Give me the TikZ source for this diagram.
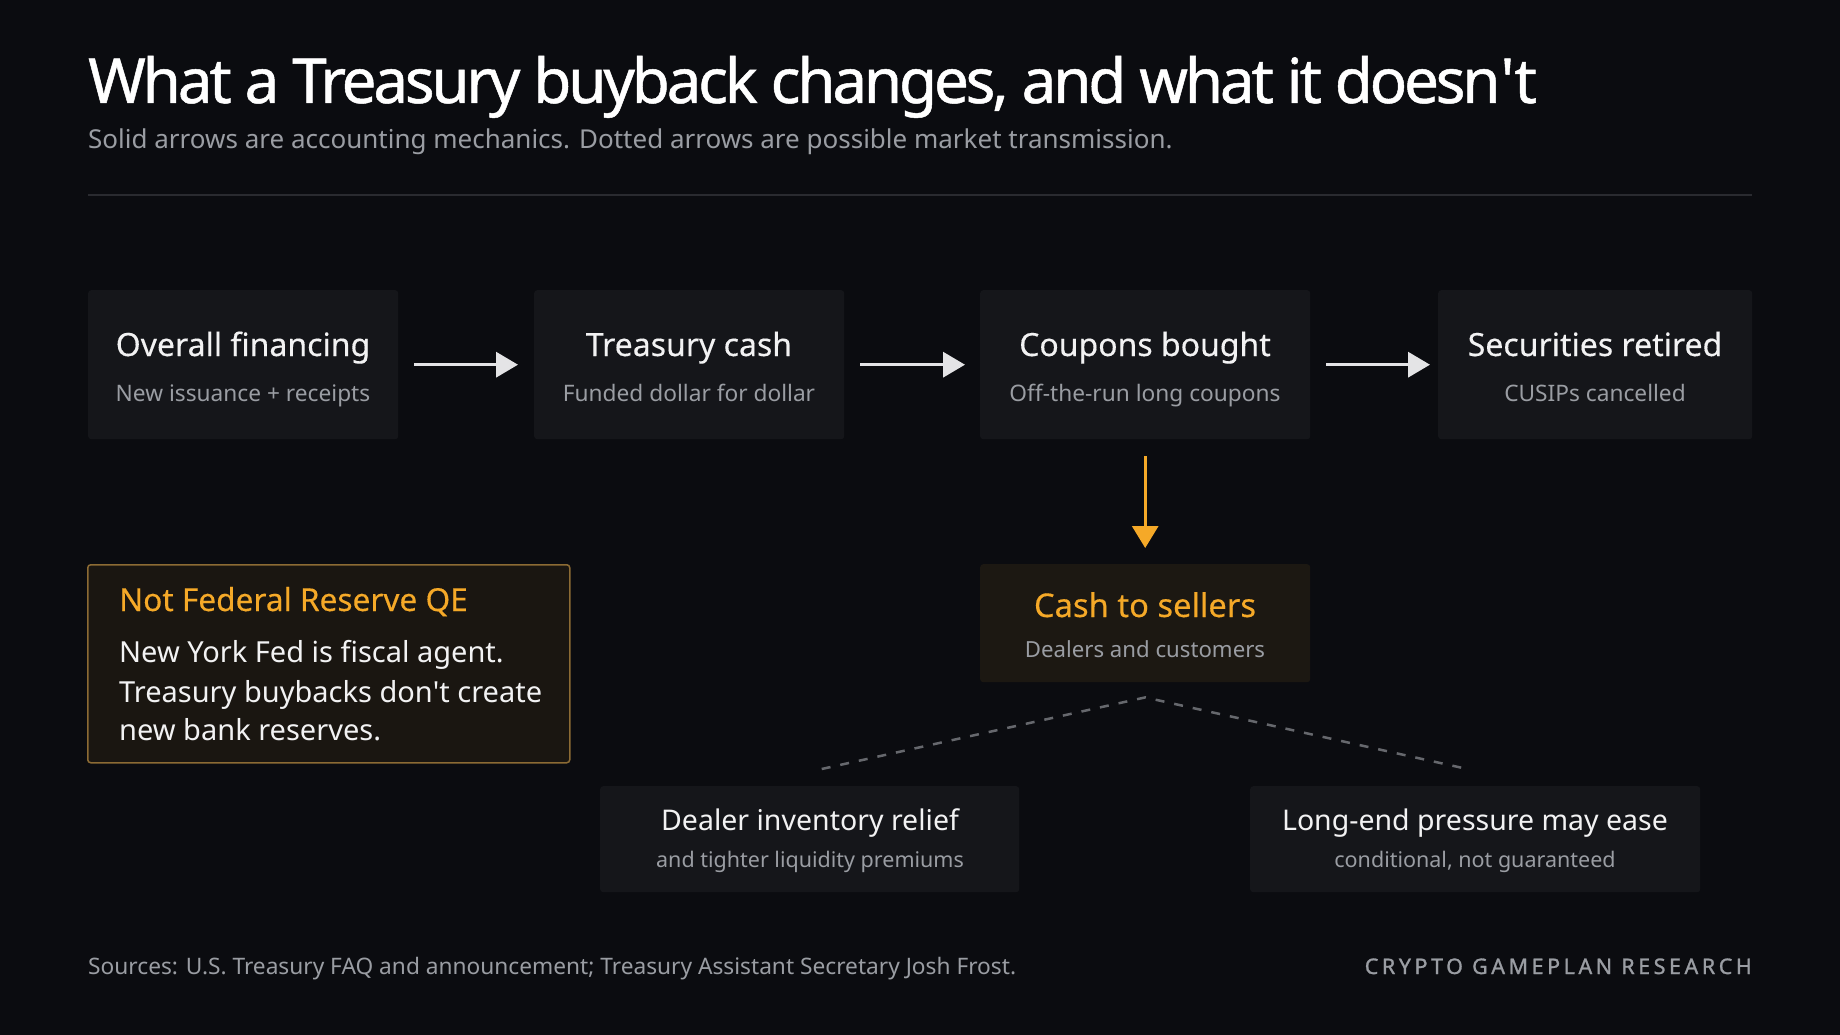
\documentclass[tikz,border=0pt]{standalone}
\usepackage{fontspec}
\setmainfont{Noto Sans}
\newfontfamily\titlefont{Noto Sans}[LetterSpace=-5.2,FakeBold=0.8]
\newfontfamily\medfont{Noto Sans}[FakeBold=0.3]
\newfontfamily\brandfont{Noto Sans}[LetterSpace=16.5,FakeBold=1.2]
\usetikzlibrary{arrows.meta,calc}
\definecolor{bg}{HTML}{0B0C10}
\definecolor{boxfill}{HTML}{15161A}
\definecolor{txt}{HTML}{F2F2F3}
\definecolor{subc}{HTML}{9A9DA3}
\definecolor{orng}{HTML}{F5A928}
\definecolor{cashfill}{HTML}{1C1812}
\definecolor{qefill}{HTML}{1A1611}
\definecolor{qeborder}{HTML}{8C6B34}
\definecolor{dashc}{HTML}{66686D}
\definecolor{rulec}{HTML}{2A2B30}
\definecolor{arrowc}{HTML}{E4E4E6}
\tikzset{
  card/.style={fill=boxfill, rounded corners=3pt, draw=none, inner sep=0pt, anchor=north west},
  ttl/.style={text=txt, inner sep=0pt, anchor=base, font=\medfont\fontsize{32}{38}\selectfont},
  sbt/.style={text=subc, inner sep=0pt, anchor=base, font=\fontsize{22.7}{27}\selectfont},
  flow/.style={draw=arrowc, line width=3.5pt, -{Triangle[length=22pt,width=25pt]}},
  oflow/.style={draw=orng, line width=3pt, -{Triangle[length=22pt,width=26pt]}},
  maybe/.style={draw=dashc, line width=2.5pt, dash pattern=on 9pt off 10pt, line join=round},
}
\begin{document}
\begin{tikzpicture}[x=1pt,y=-1pt]
\fill[bg] (0,0) rectangle (1840,1035);
\useasboundingbox (0,0) rectangle (1840,1035);

% header
\node[anchor=base west, inner sep=0pt, text=white, font=\titlefont\fontsize{62}{70}\selectfont] (title) at (88,103) {What a Treasury buyback changes, and what it doesn\textquotesingle t};
\node[anchor=base west, inner sep=0pt, text=subc, font=\fontsize{26}{30}\selectfont] (subtitle) at (88,149) {Solid arrows are accounting mechanics. Dotted arrows are possible market transmission.};
\draw[rulec, line width=1.5pt] (88,195) -- (1752,195);

% top row
\node[card, minimum width=310pt, minimum height=149pt] (b1) at (88,290) {};
\node[card, minimum width=310pt, minimum height=149pt] (b2) at (534,290) {};
\node[card, minimum width=330pt, minimum height=149pt] (b3) at (980,290) {};
\node[card, minimum width=314pt, minimum height=149pt] (b4) at (1438,290) {};

\node[ttl] (t1) at (243,356) {Overall financing};
\node[sbt] (s1) at (243,401) {New issuance + receipts};
\node[ttl] (t2) at (689,356) {Treasury cash};
\node[sbt] (s2) at (689,401) {Funded dollar for dollar};
\node[ttl] (t3) at (1145,356) {Coupons bought};
\node[sbt] (s3) at (1145,401) {Off-the-run long coupons};
\node[ttl] (t4) at (1595,356) {Securities retired};
\node[sbt] (s4) at (1595,401) {CUSIPs cancelled};

\draw[flow, shorten <=16pt, shorten >=16pt] (b1.east) -- (b2.west);
\draw[flow, shorten <=16pt, shorten >=15pt] (b2.east) -- (b3.west);
\draw[flow, shorten <=16pt, shorten >=8pt] (b3.east) -- (b4.west);

% cash to sellers
\node[card, fill=cashfill, minimum width=330pt, minimum height=118pt] (cash) at (980,564) {};
\node[ttl, text=orng, font=\medfont\fontsize{32.7}{38}\selectfont] (tc) at (1145,617) {Cash to sellers};
\node[sbt, font=\fontsize{22.2}{27}\selectfont] (sc) at (1145,657) {Dealers and customers};
\draw[oflow, shorten <=17pt, shorten >=16pt] (b3.south) -- (cash.north);

% not QE
\node[card, fill=qefill, draw=qeborder, line width=1.5pt, minimum width=482pt, minimum height=198pt] (qe) at (87,564) {};
\node[anchor=base west, inner sep=0pt, text=orng, font=\medfont\fontsize{31.6}{36}\selectfont] (qet) at (119,611) {Not Federal Reserve QE};
\node[anchor=base west, inner sep=0pt, text=txt, font=\fontsize{29}{34}\selectfont] (qe1) at (119,662) {New York Fed is fiscal agent.};
\node[anchor=base west, inner sep=0pt, text=txt, font=\fontsize{29}{34}\selectfont] (qe2) at (119,702) {Treasury buybacks don\textquotesingle t create};
\node[anchor=base west, inner sep=0pt, text=txt, font=\fontsize{29}{34}\selectfont] (qe3) at (119,740) {new bank reserves.};

% bottom row
\node[card, minimum width=419pt, minimum height=106pt] (dealer) at (600,786) {};
\node[card, minimum width=450pt, minimum height=106pt] (longend) at (1250,786) {};
\node[ttl, font=\fontsize{28.5}{34}\selectfont] (td) at (810,830) {Dealer inventory relief};
\node[sbt, font=\fontsize{21.5}{26}\selectfont] (sd) at (810,867) {and tighter liquidity premiums};
\node[ttl, font=\fontsize{28.5}{34}\selectfont] (tl) at (1475,830) {Long-end pressure may ease};
\node[sbt, font=\fontsize{21.5}{26}\selectfont] (sl) at (1475,867) {conditional, not guaranteed};

\coordinate (apex) at ($(cash.south)+(0,15)$);
\coordinate (dend) at ($(dealer.north)+(12,-17)$);
\coordinate (lend) at ($(longend.north)+(-8,-17)$);
\draw[maybe] (dend) -- (apex) -- (lend);

% footer
\node[anchor=base west, inner sep=0pt, text=subc, font=\fontsize{22.7}{27}\selectfont] (src) at (88,974) {Sources: U.S. Treasury FAQ and announcement; Treasury Assistant Secretary Josh Frost.};
\node[anchor=base east, inner sep=0pt, text=subc, font=\brandfont\fontsize{21.5}{25}\selectfont] (brand) at (1752,974) {CRYPTO GAMEPLAN RESEARCH};
\end{tikzpicture}
\end{document}
